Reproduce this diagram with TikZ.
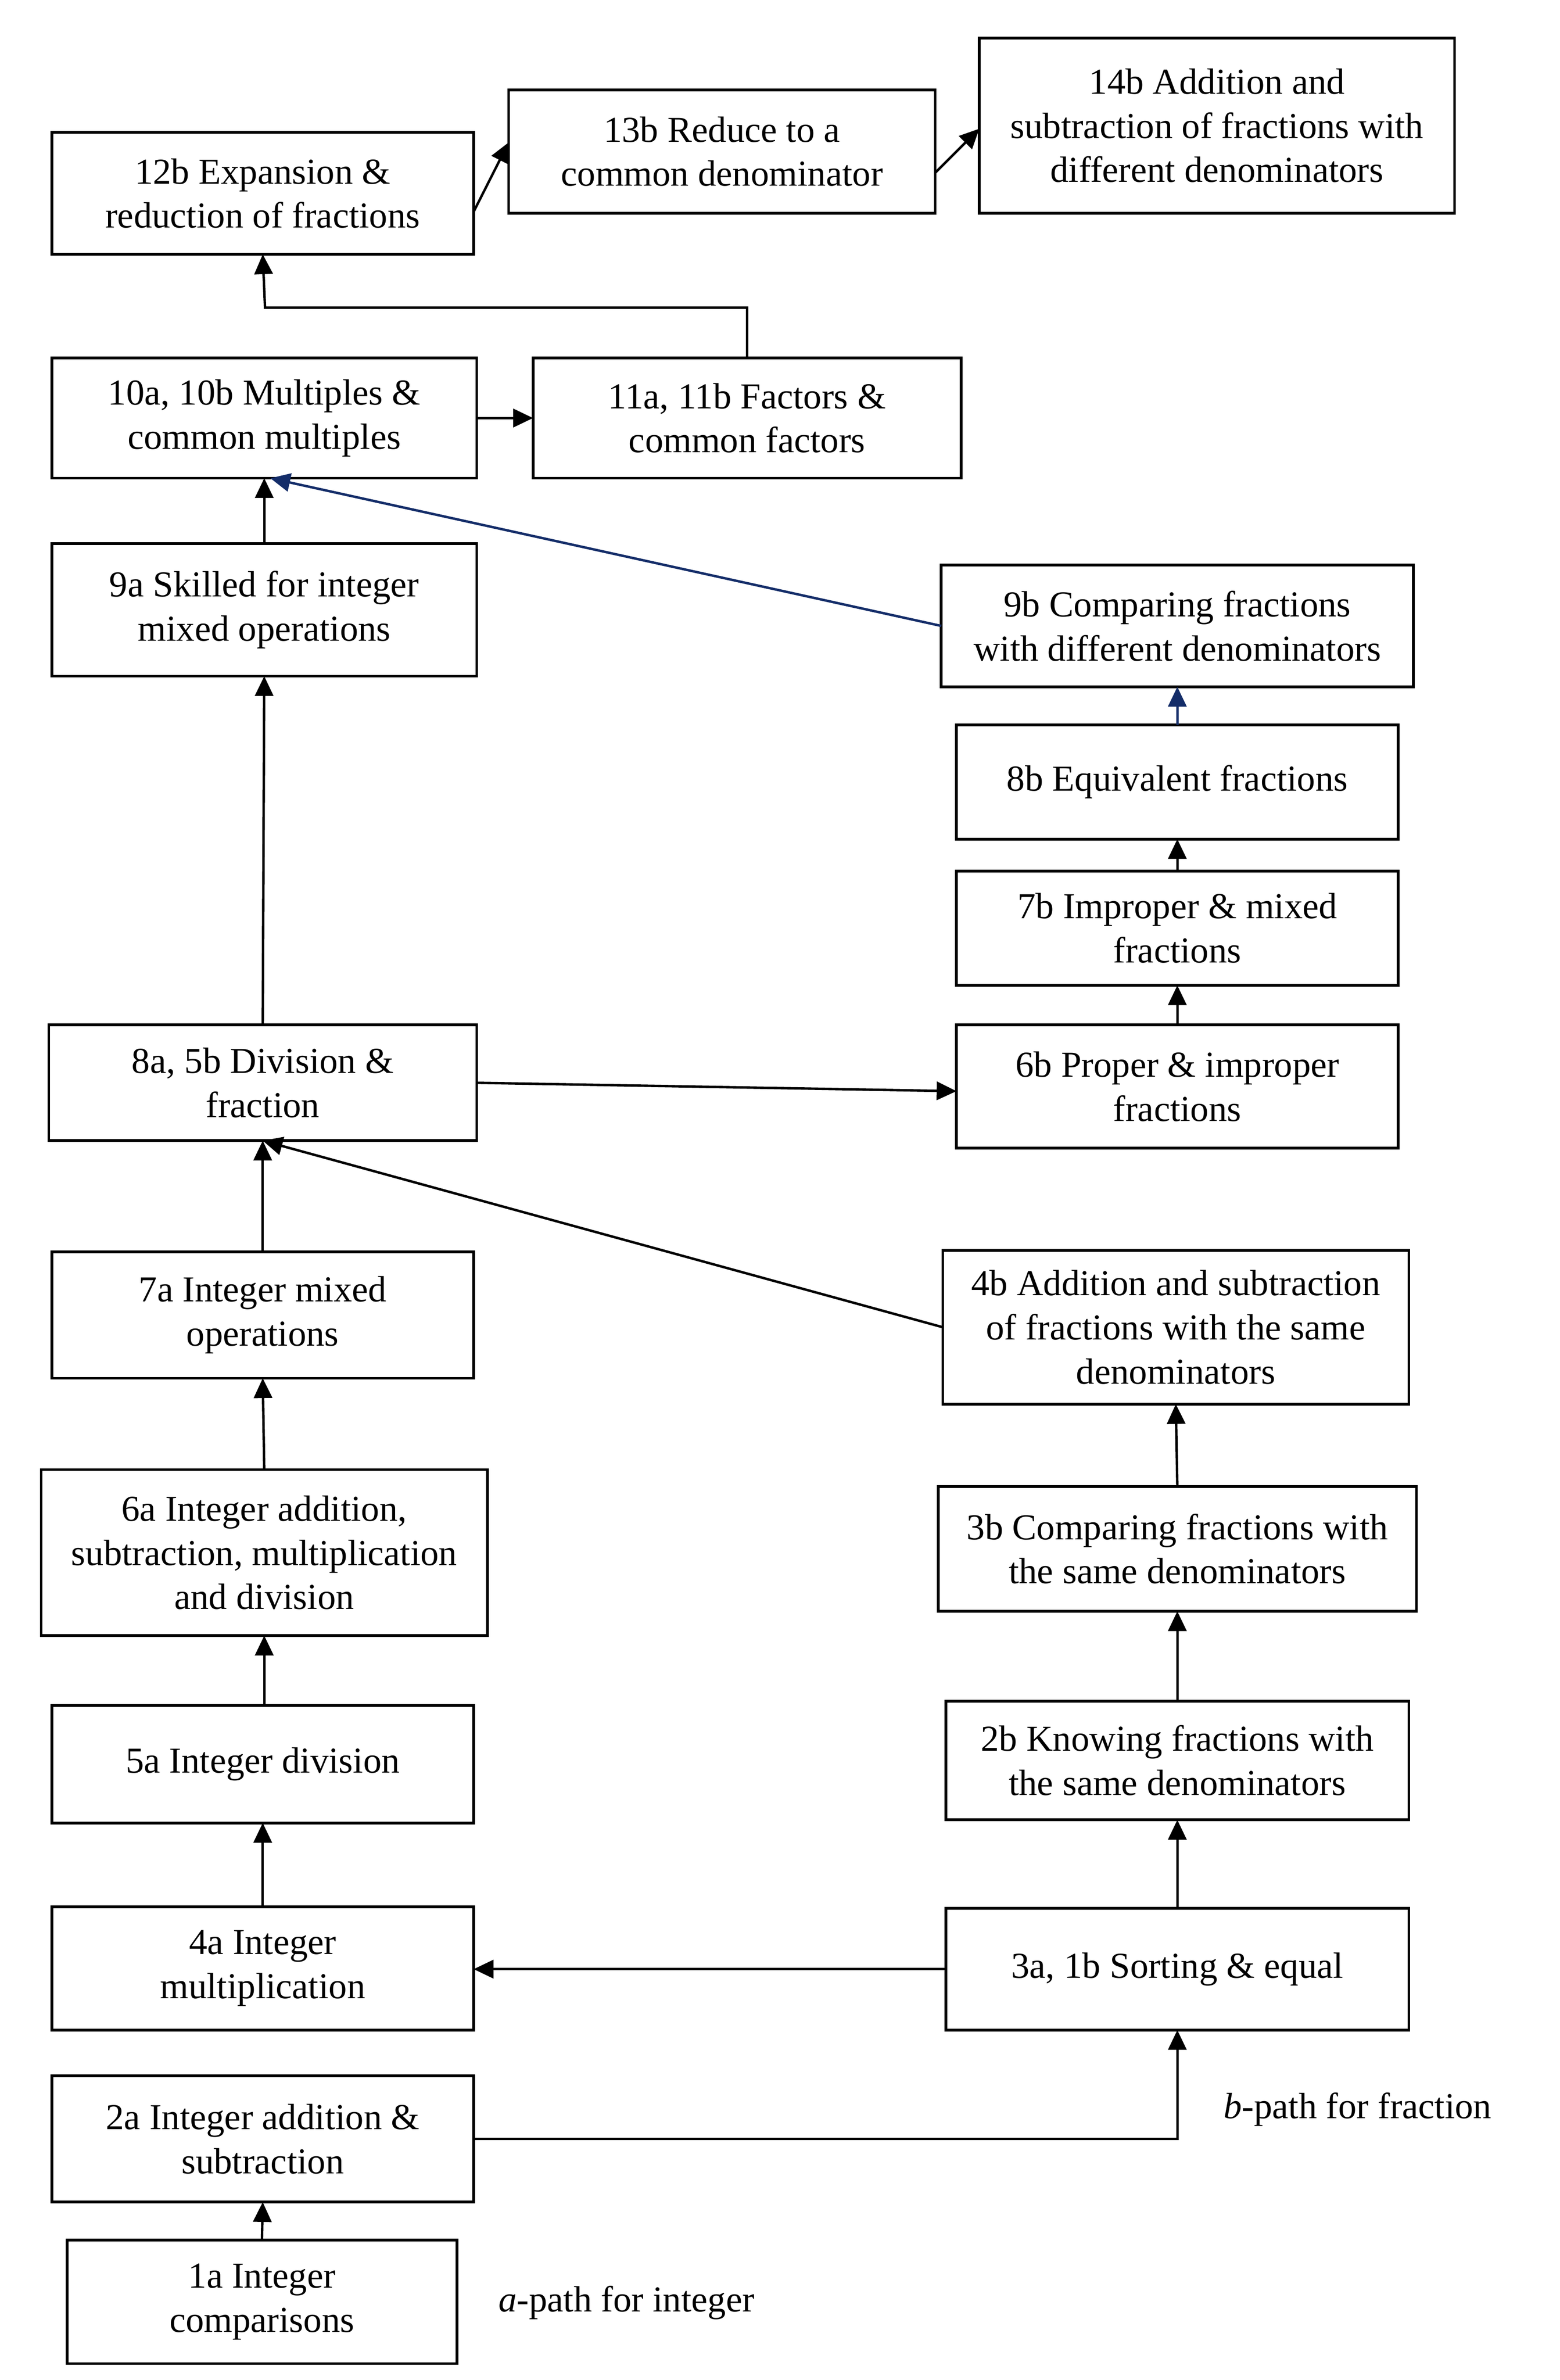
\documentclass[tikz,border=0pt]{standalone}
\usepackage{fontspec}
\setmainfont{Liberation Serif}
\usetikzlibrary{arrows.meta}
\definecolor{navy}{RGB}{20,45,105}
\newcommand\bxnode[6]{%
  \pgfmathsetmacro\bxcx{(#2+#4)/2}\pgfmathsetmacro\bxcy{(#3+#5)/2}%
  \pgfmathsetmacro\bxww{(#4-#2)*0.5}\pgfmathsetmacro\bxhh{(#5-#3)*0.5}%
  \node[box,minimum width=\bxww pt,minimum height=\bxhh pt] (#1) at (\bxcx,\bxcy) {#6};}
\begin{document}
\begin{tikzpicture}[x=0.5pt,y=-0.5pt,
  box/.style={draw,line width=0.9pt,align=center,inner sep=0pt,outer sep=0pt,
    font=\fontsize{12}{14.5}\selectfont},
  arr/.style={line width=0.8pt,-{Triangle[length=6.5pt,width=6pt]}},
  barr/.style={arr,draw=navy,fill=navy},
  lbl/.style={font=\fontsize{12}{14.5}\selectfont,inner sep=0pt,anchor=west}]
\useasboundingbox (0,0) rectangle (1024,1562.8);
\bxnode{b12}{34}{87}{311}{167}{12b Expansion \&\\reduction of fractions}
\bxnode{b13}{334}{59}{614}{140}{13b Reduce to a\\common denominator}
\bxnode{b14}{643}{25}{955}{140}{14b Addition and\\subtraction of fractions with\\different denominators}
\bxnode{a10}{34}{235}{313}{314}{10a, 10b Multiples \&\\common multiples}
\bxnode{a11}{350}{235}{631}{314}{11a, 11b Factors \&\\common factors}
\bxnode{a9}{34}{357}{313}{444}{9a Skilled for integer\\mixed operations}
\bxnode{b9}{618}{371}{928}{451}{9b Comparing fractions\\with different denominators}
\bxnode{b8}{628}{476}{918}{551}{8b Equivalent fractions}
\bxnode{b7}{628}{572}{918}{647}{7b Improper \& mixed\\fractions}
\bxnode{a8}{32}{673}{313}{749}{8a, 5b Division \&\\fraction}
\bxnode{b6}{628}{673}{918}{754}{6b Proper \& improper\\fractions}
\bxnode{a7}{34}{822}{311}{905}{7a Integer mixed\\operations}
\bxnode{b4}{619}{821}{925}{922}{4b Addition and subtraction\\of fractions with the same\\denominators}
\bxnode{a6}{27}{965}{320}{1074}{6a Integer addition,\\subtraction, multiplication\\and division}
\bxnode{b3}{616}{976}{930}{1058}{3b Comparing fractions with\\the same denominators}
\bxnode{a5}{34}{1120}{311}{1197}{5a Integer division}
\bxnode{b2}{621}{1117}{925}{1195}{2b Knowing fractions with\\the same denominators}
\bxnode{a4}{34}{1252}{311}{1333}{4a Integer\\multiplication}
\bxnode{a3}{621}{1253}{925}{1333}{3a, 1b Sorting \& equal}
\bxnode{a2}{34}{1363}{311}{1446}{2a Integer addition \&\\subtraction}
\bxnode{a1}{44}{1471}{300}{1552}{1a Integer\\comparisons}
\node[lbl] (lb) at (803,1385) {\textit{b}-path for fraction};
\node[lbl] (la) at (327,1512) {\textit{a}-path for integer};
% connectors
\draw[arr] (a1.north) -- (a2.south);
\draw[arr] (a2.east) -| (a3.south);
\draw[arr] (a3.west) -- (a3.west -| a4.east);
\draw[arr] (a4.north) -- (a5.south);
\draw[arr] (a3.north) -- (b2.south);
\draw[arr] (a5.north -| a6.north) -- (a6.south);
\draw[arr] (b2.north) -- (b3.south);
\draw[arr] (a6.north) -- (a7.south);
\draw[arr] (b3.north) -- (b4.south);
\draw[arr] (a7.north) -- (a8.south);
\draw[arr] (b4.west) -- (a8.south);
\draw[arr] (a8.east) -- ([yshift=-1.5pt]b6.west);
\draw[arr] (a8.north) -- (a9.south);
\draw[arr] (b6.north) -- (b7.south);
\draw[arr] (b7.north) -- (b8.south);
\draw[barr] (b8.north) -- (b9.south);
\draw[arr] (a9.north) -- (a10.south);
\draw[barr] (b9.west) -- ([xshift=2pt]a10.south);
\draw[arr] (a10.east) -- (a11.west);
\draw[arr] (a11.north) |- (174,202) -- (b12.south);
\draw[arr] ([yshift=-6pt]b12.east) -- ([yshift=3pt]b13.west);
\draw[arr] ([yshift=-7pt]b13.east) -- ([yshift=-1pt]b14.west);
\end{tikzpicture}
\end{document}
